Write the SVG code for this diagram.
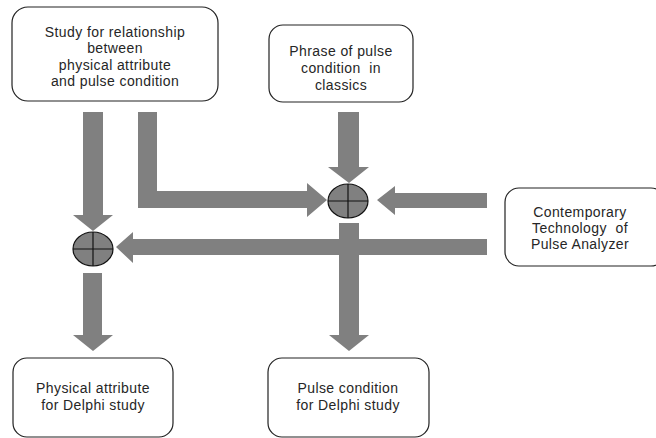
<svg xmlns="http://www.w3.org/2000/svg" width="656" height="438" viewBox="0 0 656 438">
<style>
.box{fill:#fff;stroke:#222;stroke-width:1.2}
.t{font-family:"Liberation Sans",Arial,sans-serif;font-size:14px;letter-spacing:0.4px;fill:#262626;text-anchor:middle}
.ar{fill:#808080;stroke:none}
.op{fill:#808080;stroke:#111;stroke-width:1.2}
.cr{stroke:#111;stroke-width:1.2}
</style>
<rect width="656" height="438" fill="#fff"/>
<g id="connectors">
<polygon class="ar" points="83,112 103,112 103,215 113,215 93,231 73,215 83,215"/>
<polygon class="ar" points="138,112 157,112 157,191 307,191 307,183 327,200 307,217 307,208 138,208"/>
<polygon class="ar" points="338,112 359,112 359,167 369,167 349,183 328,167 338,167"/>
<polygon class="ar" points="487,193 395,193 395,186 377,200 395,215 395,208 487,208"/>
<polygon class="ar" points="487,239 133,239 133,232 116,247 133,263 133,255 487,255"/>
<polygon class="ar" points="339,223 359,223 359,335 369,335 349,351 329,335 339,335"/>
<polygon class="ar" points="83,273 102,273 102,335 113,335 93,351 73,335 83,335"/>
</g>
<g id="sum1">
<ellipse class="op" cx="348" cy="201" rx="20" ry="17"/>
<line class="cr" x1="328" y1="201" x2="368" y2="201"/>
<line class="cr" x1="348" y1="184" x2="348" y2="218"/>
</g>
<g id="sum2">
<ellipse class="op" cx="93" cy="249" rx="20" ry="17"/>
<line class="cr" x1="73" y1="249" x2="113" y2="249"/>
<line class="cr" x1="93" y1="232" x2="93" y2="266"/>
</g>
<g id="n1">
<rect class="box" x="12" y="7" width="206" height="94" rx="16"/>
<text class="t" x="115" y="37">Study for relationship</text>
<text class="t" x="115" y="53">between</text>
<text class="t" x="115" y="70">physical attribute</text>
<text class="t" x="115" y="86">and pulse condition</text>
</g>
<g id="n2">
<rect class="box" x="269" y="25" width="144" height="77" rx="14"/>
<text class="t" x="341" y="56" xml:space="preserve">Phrase of pulse</text>
<text class="t" x="341" y="73" xml:space="preserve">condition  in</text>
<text class="t" x="341" y="90">classics</text>
</g>
<g id="n3">
<rect class="box" x="505" y="188" width="160" height="78" rx="14"/>
<text class="t" x="580" y="217">Contemporary</text>
<text class="t" x="580" y="233" xml:space="preserve">Technology  of</text>
<text class="t" x="580" y="249">Pulse Analyzer</text>
</g>
<g id="n4">
<rect class="box" x="13" y="358" width="160" height="79" rx="14"/>
<text class="t" x="93" y="393">Physical attribute</text>
<text class="t" x="93" y="410">for Delphi study</text>
</g>
<g id="n5">
<rect class="box" x="268" y="358" width="161" height="79" rx="14"/>
<text class="t" x="348" y="393">Pulse condition</text>
<text class="t" x="348" y="410">for Delphi study</text>
</g>
</svg>
